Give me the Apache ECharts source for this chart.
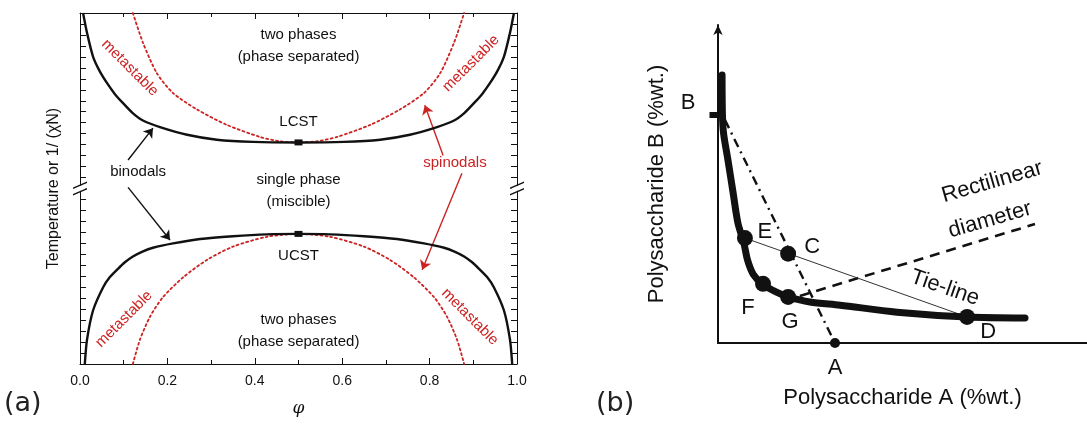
<!DOCTYPE html>
<html>
<head>
<meta charset="utf-8">
<script src="https://cdn.jsdelivr.net/npm/echarts@6/dist/echarts.min.js"></script>
<style>
html,body{margin:0;padding:0;background:#fff}
#chart{width:1087px;height:425px}
</style>
</head>
<body>
<div id="chart"></div>
<script>
// ---- panel (a): phase diagram, phi vs temperature (arbitrary units, axis break at 16)
var lcstBinodal = [[0.007,32],[0.016,30.2],[0.030,28.0],[0.045,26.7],[0.062,25.6],[0.080,24.6],[0.098,23.8],[0.120,22.9],[0.144,22.2],[0.183,21.6],[0.245,20.9],[0.313,20.45],[0.396,20.25],[0.5,20.2],
    [0.604,20.25],[0.687,20.45],[0.755,20.9],[0.817,21.6],[0.856,22.2],[0.880,22.9],[0.902,23.8],[0.920,24.6],[0.938,25.6],[0.955,26.7],[0.970,28.0],[0.984,30.2],[0.993,32]];
var ucstBinodal = [[0.011,0],[0.016,2.2],[0.030,4.9],[0.053,7.0],[0.068,7.9],[0.085,8.6],[0.102,9.25],[0.121,9.8],[0.143,10.25],[0.167,10.6],[0.213,11.0],[0.275,11.4],[0.350,11.65],[0.428,11.82],[0.5,11.86],
    [0.572,11.82],[0.650,11.65],[0.725,11.4],[0.787,11.0],[0.833,10.6],[0.857,10.25],[0.879,9.8],[0.898,9.25],[0.915,8.6],[0.932,7.9],[0.947,7.0],[0.970,4.9],[0.984,2.2],[0.989,0]];
var lcstSpinodal = [[0.121,32],[0.144,29.3],[0.176,26.5],[0.213,24.7],[0.268,23.2],[0.336,21.8],[0.412,20.7],[0.458,20.3],[0.5,20.2],
    [0.542,20.3],[0.588,20.7],[0.664,21.8],[0.732,23.2],[0.787,24.7],[0.824,26.5],[0.856,29.3],[0.879,32]];
var ucstSpinodal = [[0.121,0],[0.137,2.2],[0.160,4.3],[0.190,6.1],[0.236,7.9],[0.291,9.5],[0.350,10.7],[0.428,11.6],[0.5,11.86],
    [0.572,11.6],[0.650,10.7],[0.709,9.5],[0.764,7.9],[0.810,6.1],[0.840,4.3],[0.863,2.2],[0.879,0]];
var criticalPoints = [[0.5,20.2],[0.5,11.86]];
// arrows: [x0, y0, x1, y1]
var binodalArrows = [[0.110,18.6,0.167,21.5],[0.110,16.1,0.206,11.3]];
var spinodalArrows = [[0.831,19.0,0.789,23.6],[0.874,17.4,0.783,8.6]];
// text: [x, y, text]
var blackNotes = [[0.5,29.0,'two phases\n(phase separated)'],[0.5,22.1,'LCST'],[0.5,15.8,'single phase\n(miscible)'],
    [0.5,9.85,'UCST'],[0.5,3.0,'two phases\n(phase separated)'],[0.133,17.5,'binodals']];
var redNotes = [[0.114,27.0,'metastable'],[0.895,27.4,'metastable'],[0.101,4.1,'metastable'],[0.892,4.3,'metastable'],[0.858,18.3,'spinodals']];
var redRotate = [-45,45,45,-45,0];
var breakAt = [[0,16],[1,16]];

// ---- panel (b): two polysaccharide system (x,y in %wt., arbitrary 0..100)
var binodalB = [[1.1,84.3],[1.2,72],[1.5,66],[2.7,57.5],[4.1,47.2],[5.4,37.7],[7.0,31.5],[8.0,26.1],[9.6,21.5],[12.2,18.4],[16,15.9],[19,14.5],
    [24.9,12.9],[33.1,11.9],[48.5,9.7],[67.5,8.2],[83.2,7.9]];
var pointsB = [[7.3,33.0],[19.0,28.1],[12.2,18.6],[19.0,14.5],[67.5,8.2]];
var pointA = [[31.7,0]];
var pointB = [[0,71.7]];
var tieLine = [[7.3,33.0],[67.5,8.2]];
var dilutionLine = [[1.9,70.1],[31.7,0]];
var diameterLine = [[22.2,14.8],[85.9,37.4]];
var lettersB = [[12.7,34.9,'E'],[25.5,30.2,'C'],[8.1,11.0,'F'],[19.5,6.6,'G'],[73.2,3.5,'D'],[31.7,-7.9,'A'],[-8.1,75.5,'B']];
var notesB = [[74.3,50.6,'Rectilinear'],[73.7,38.7,'diameter'],[61.5,17.3,'Tie-line']];
var notesBRotate = [16,16,-19];

var RED = '#cc2222';
var INK = '#111';
var FONT = '"Liberation Sans", Arial, sans-serif';

function notePoints(list, color, size, rot) {
    return list.map(function (n, i) {
        return {
            value: [n[0], n[1]],
            label: { show: true, formatter: n[2], color: color, fontSize: size, fontFamily: FONT,
                rotate: rot ? rot[i] : 0, align: 'center', verticalAlign: 'middle', lineHeight: size + 7 }
        };
    });
}
function arrowData(list) {
    return list.map(function (a) { return { coords: [[a[0], a[1]], [a[2], a[3]]] }; });
}
function textSeries(xi, data) {
    return { type: 'scatter', xAxisIndex: xi, yAxisIndex: xi, data: data, symbolSize: 0, clip: false,
        itemStyle: { opacity: 1 }, z: 7 };
}

var tickA = { show: true, inside: true, length: 6, lineStyle: { color: INK } };
var minorA = { show: true, splitNumber: 2, length: 4, lineStyle: { color: INK } };
var lineA = { show: true, onZero: false, lineStyle: { color: INK, width: 1 } };

var chart = echarts.init(document.getElementById('chart'));
chart.setOption({
    animation: false,
    backgroundColor: '#fff',
    grid: [
        { left: 80, top: 13, width: 437, height: 351, containLabel: false, outerBoundsMode: 'none' },
        { left: 718, top: 25, width: 369, height: 318, containLabel: false, outerBoundsMode: 'none' }
    ],
    xAxis: [
        { gridIndex: 0, type: 'value', min: 0, max: 1, interval: 0.2, position: 'bottom',
          axisLine: lineA, axisTick: tickA, minorTick: minorA, splitLine: { show: false },
          axisLabel: { color: '#111', fontSize: 14, fontFamily: FONT, margin: 10, formatter: function (v) { return v.toFixed(1); } },
          name: 'φ', nameLocation: 'middle', nameGap: 36,
          nameTextStyle: { color: '#111', fontSize: 17, fontStyle: 'italic', fontFamily: '"DejaVu Serif", serif' } },
        { gridIndex: 0, type: 'value', min: 0, max: 1, interval: 0.2, position: 'top',
          axisLine: lineA, axisTick: tickA, minorTick: minorA, splitLine: { show: false }, axisLabel: { show: false } },
        { gridIndex: 1, type: 'value', min: 0, max: 100, position: 'bottom',
          axisLine: { show: true, onZero: false, lineStyle: { color: INK, width: 2 } },
          axisTick: { show: false }, axisLabel: { show: false }, splitLine: { show: false },
          name: 'Polysaccharide A (%wt.)', nameLocation: 'middle', nameGap: 44,
          nameTextStyle: { color: INK, fontSize: 22, fontFamily: FONT } }
    ],
    yAxis: [
        { gridIndex: 0, type: 'value', min: 0, max: 32, interval: 1, position: 'left',
          axisLine: lineA, axisTick: tickA, splitLine: { show: false }, axisLabel: { show: false },
          name: 'Temperature or 1/ (χN)', nameLocation: 'middle', nameGap: 18, nameRotate: 90,
          nameTextStyle: { color: '#111', fontSize: 16, fontFamily: FONT } },
        { gridIndex: 0, type: 'value', min: 0, max: 32, interval: 1, position: 'right',
          axisLine: lineA, axisTick: tickA, splitLine: { show: false }, axisLabel: { show: false } },
        { gridIndex: 1, type: 'value', min: 0, max: 100, position: 'left',
          axisLine: { show: true, onZero: false, symbol: ['none', 'arrow'], symbolSize: [7, 10], lineStyle: { color: INK, width: 2 } },
          axisTick: { show: false }, axisLabel: { show: false }, splitLine: { show: false },
          name: 'Polysaccharide B (%wt.)', nameLocation: 'middle', nameGap: 50, nameRotate: 90,
          nameTextStyle: { color: INK, fontSize: 22, fontFamily: FONT } }
    ],
    series: [
        // panel (a)
        { type: 'line', xAxisIndex: 0, yAxisIndex: 0, data: lcstSpinodal, smooth: 0.25, symbol: 'none',
          lineStyle: { color: RED, width: 1.8, type: [2, 3], cap: 'round' } },
        { type: 'line', xAxisIndex: 0, yAxisIndex: 0, data: ucstSpinodal, smooth: 0.25, symbol: 'none',
          lineStyle: { color: RED, width: 1.8, type: [2, 3], cap: 'round' } },
        { type: 'line', xAxisIndex: 0, yAxisIndex: 0, data: lcstBinodal, smooth: 0.25, symbol: 'none',
          lineStyle: { color: INK, width: 2.4 } },
        { type: 'line', xAxisIndex: 0, yAxisIndex: 0, data: ucstBinodal, smooth: 0.25, symbol: 'none',
          lineStyle: { color: INK, width: 2.4 } },
        { type: 'scatter', xAxisIndex: 0, yAxisIndex: 0, data: criticalPoints, symbol: 'rect', symbolSize: [8, 6],
          itemStyle: { color: INK, opacity: 1 }, z: 4 },
        { type: 'lines', coordinateSystem: 'cartesian2d', xAxisIndex: 0, yAxisIndex: 0, data: arrowData(binodalArrows),
          symbol: ['none', 'arrow'], symbolSize: 9, lineStyle: { color: INK, width: 1.4, opacity: 1 } },
        { type: 'lines', coordinateSystem: 'cartesian2d', xAxisIndex: 0, yAxisIndex: 0, data: arrowData(spinodalArrows),
          symbol: ['none', 'arrow'], symbolSize: 9, lineStyle: { color: RED, width: 1.4, opacity: 1 } },
        { type: 'scatter', xAxisIndex: 0, yAxisIndex: 0, data: breakAt, clip: false, symbolSize: [14, 10.8],
          symbol: 'path://M0,7.6 L14,1.6 L14,6.4 L0,12.4 Z', itemStyle: { color: '#fff', opacity: 1 }, z: 5 },
        { type: 'scatter', xAxisIndex: 0, yAxisIndex: 0, data: breakAt, clip: false, symbolSize: [14, 14],
          symbol: 'path://M0,6 L14,0 L14,1.6 L0,7.6 Z M0,12.4 L14,6.4 L14,8 L0,14 Z', itemStyle: { color: INK, opacity: 1 }, z: 6 },
        textSeries(0, notePoints(blackNotes, '#111', 15)),
        textSeries(0, notePoints(redNotes, RED, 15, redRotate)),
        // panel (b)
        { type: 'line', xAxisIndex: 2, yAxisIndex: 2, data: dilutionLine, symbol: 'none',
          lineStyle: { color: INK, width: 2.4, type: [9, 5, 2, 5] } },
        { type: 'line', xAxisIndex: 2, yAxisIndex: 2, data: diameterLine, symbol: 'none',
          lineStyle: { color: INK, width: 2.6, type: [10, 7] } },
        { type: 'line', xAxisIndex: 2, yAxisIndex: 2, data: tieLine, symbol: 'none',
          lineStyle: { color: '#333', width: 1 } },
        { type: 'line', xAxisIndex: 2, yAxisIndex: 2, data: binodalB, smooth: 0.3, symbol: 'none',
          lineStyle: { color: INK, width: 7, cap: 'round', join: 'round' } },
        { type: 'scatter', xAxisIndex: 2, yAxisIndex: 2, data: pointsB, symbolSize: 16, itemStyle: { color: INK, opacity: 1 }, z: 4 },
        { type: 'scatter', xAxisIndex: 2, yAxisIndex: 2, data: pointA, symbolSize: 10, clip: false, itemStyle: { color: INK, opacity: 1 }, z: 4 },
        { type: 'scatter', xAxisIndex: 2, yAxisIndex: 2, data: pointB, symbol: 'rect', symbolSize: [9, 6], symbolOffset: [-4, 0],
          clip: false, itemStyle: { color: INK, opacity: 1 }, z: 4 },
        textSeries(2, notePoints(lettersB, INK, 22)),
        textSeries(2, notePoints(notesB, INK, 22, notesBRotate))
    ],
    graphic: [
        { type: 'text', left: 4, top: 390, style: { text: '(a)', fontSize: 27, fill: '#222', fontFamily: '"DejaVu Sans", sans-serif' } },
        { type: 'text', left: 596, top: 390, style: { text: '(b)', fontSize: 27, fill: '#222', fontFamily: '"DejaVu Sans", sans-serif' } }
    ]
});
</script>
</body>
</html>
